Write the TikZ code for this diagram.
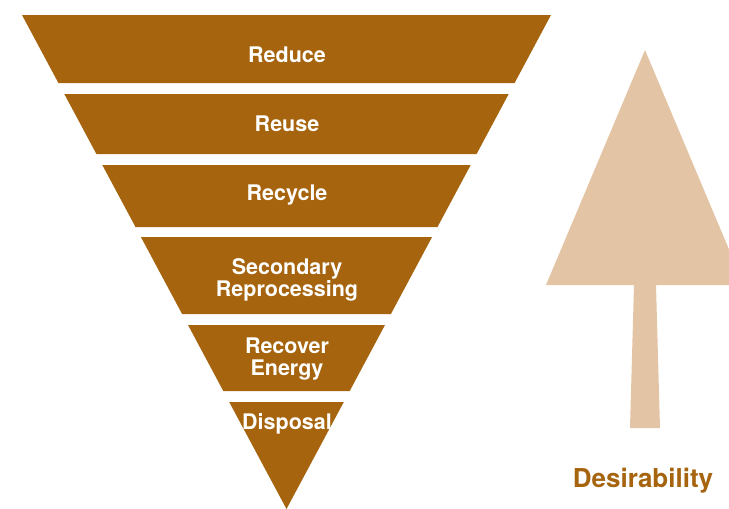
\documentclass[tikz,border=0pt]{standalone}
\usepackage{fontspec}
\setmainfont{TeX Gyre Heros}
\definecolor{hierbrown}{RGB}{166,100,14}
\definecolor{hiertan}{RGB}{227,197,165}

\begin{document}
\begin{tikzpicture}[
    x=1pt, y=-1pt,
    band/.style={fill=hierbrown},
    level/.style={anchor=base, align=center, text=white, font=\bfseries\fontsize{21.5}{22}\selectfont},
    desire/.style={fill=hiertan},
    caption/.style={anchor=base, text=hierbrown, font=\bfseries\fontsize{26}{28}\selectfont},
  ]
    \clip (0,0) rectangle (729,509);

    \fill[band] (22,15) -- (551,15) -- (514.6,83) -- (58.4,83) -- cycle;
    \fill[band] (64.3,94) -- (508.7,94) -- (476.6,154) -- (96.4,154) -- cycle;
    \fill[band] (102.3,165) -- (470.7,165) -- (437.5,227) -- (135.5,227) -- cycle;
    \fill[band] (140.9,237) -- (432.1,237) -- (390.9,314) -- (182.1,314) -- cycle;
    \fill[band] (188,325) -- (385,325) -- (349.7,391) -- (223.3,391) -- cycle;
    \fill[band] (229.2,402) -- (343.8,402) -- (286.5,509) -- cycle;

    % two-line labels sit on the baseline of their last line
    \node[level] (reduce) at (287,62) {Reduce};
    \node[level] (reuse) at (287,131) {Reuse};
    \node[level] (recycle) at (287,200) {Recycle};
    \node[level] (secondary) at (287,296) {Secondary\\Reprocessing};
    \node[level] (recover) at (287,375) {Recover\\Energy};
    \node[level] (disposal) at (287,429) {Disposal};

    \fill[desire] (645,50) -- (744,285) -- (656,285) -- (660,428) -- (630,428) -- (634,285) -- (546,285) -- cycle;

    \node[caption] (desirability) at (643,487) {Desirability};

  \end{tikzpicture}
\end{document}
